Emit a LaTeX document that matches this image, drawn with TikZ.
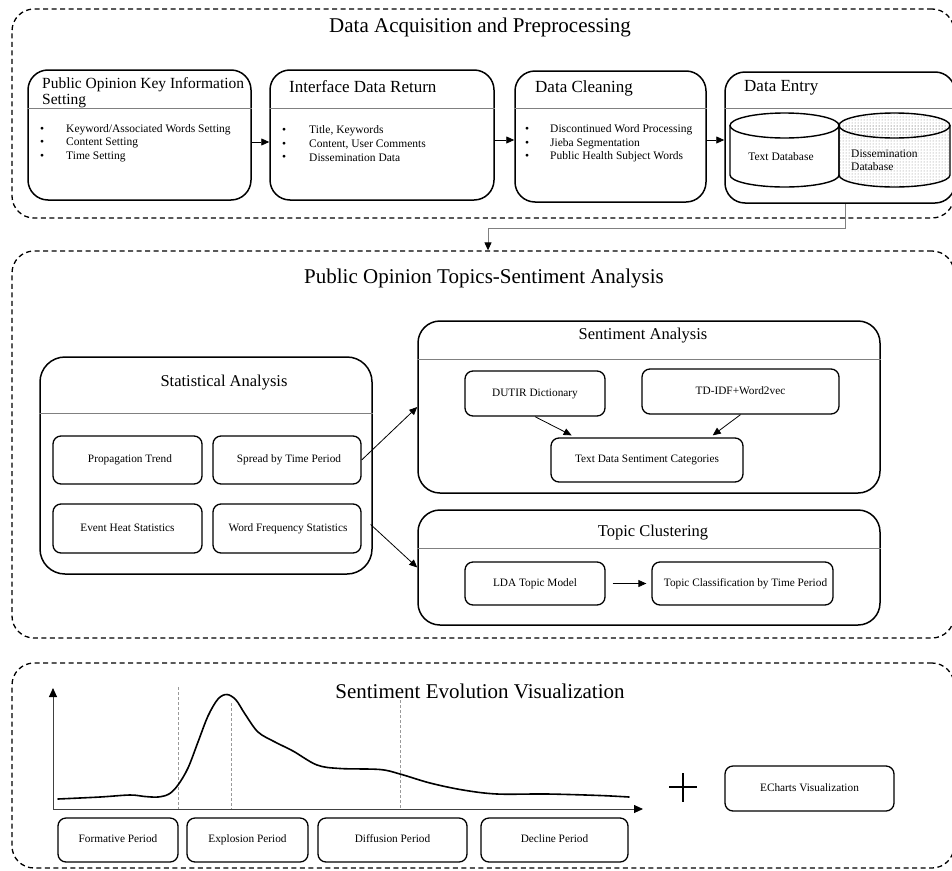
\documentclass[tikz,border=0pt]{standalone}
\usepackage{fontspec}
\setmainfont{Liberation Serif}
\usetikzlibrary{arrows.meta,patterns,calc}
\begin{document}
\begin{tikzpicture}[x=1pt,y=-1pt,
  sec/.style={draw, line width=1.3pt, dash pattern=on 5pt off 3.5pt, rounded corners=22pt, inner sep=0pt},
  panel/.style={draw, line width=1.5pt, rounded corners=20pt, inner sep=0pt},
  inbox/.style={draw, line width=1.3pt, rounded corners=8pt, inner sep=0pt, align=center, text height=8pt, text depth=2.5pt, font=\fontsize{11.3}{13}\selectfont},
  div/.style={draw=gray, line width=0.9pt},
  sectitle/.style={inner sep=0pt, font=\fontsize{21}{25}\selectfont},
  ptitle/.style={inner sep=0pt, anchor=west, font=\fontsize{17}{19}\selectfont},
  btitle/.style={inner sep=0pt, font=\fontsize{16.5}{19}\selectfont},
  bul/.style={inner sep=0pt, anchor=west, font=\fontsize{11.5}{13}\selectfont},
  small/.style={inner sep=0pt, font=\fontsize{11.5}{13}\selectfont},
  arr/.style={line width=0.8pt, -{Triangle[length=8pt,width=7pt]}},
  conn/.style={draw=gray, line width=1pt, -{Triangle[length=8pt,width=7pt,color=black]}},
  axis/.style={draw=black!75, line width=0.9pt, -{Triangle[length=9pt,width=8pt,color=black]}},
  vdash/.style={draw=gray!80, line width=0.6pt, dash pattern=on 3pt off 2pt},
  cyl/.style={draw, line width=1.4pt}
]
\useasboundingbox (0,0) rectangle (952,870);

% ---------- Section 1 ----------
\node[sec, minimum width=942pt, minimum height=209pt] (sec1) at (483,113.5) {};
\node[sectitle] (t1) at (480,27) {Data Acquisition and Preprocessing};

\node[panel, minimum width=223pt, minimum height=130pt] (p1) at (139.5,135) {};
\node[panel, minimum width=224pt, minimum height=130pt] (p2) at (382,135) {};
\node[panel, minimum width=191pt, minimum height=131pt] (p3) at (610.5,136.5) {};
\node[panel, minimum width=230pt, minimum height=131pt] (p4) at (840,137.5) {};

\draw[div] (p1.west |- 0,108) -- (p1.east |- 0,108);
\draw[div] (p2.west |- 0,108) -- (p2.east |- 0,108);
\draw[div] (p3.west |- 0,108) -- (p3.east |- 0,108);
\draw[div] (p4.west |- 0,108) -- (p4.east |- 0,108);

\node[ptitle, font=\fontsize{15.5}{16}\selectfont] (p1ta) at (42,85) {Public Opinion Key Information};
\node[ptitle, font=\fontsize{15.5}{16}\selectfont] (p1tb) at (42,101) {Setting};
\node[ptitle] (p2t) at (289,87) {Interface Data Return};
\node[ptitle] (p3t) at (535,88) {Data Cleaning};
\node[ptitle] (p4t) at (744,88) {Data Entry};

\foreach \y/\t [count=\i] in {129.5/Keyword\slash Associated Words Setting, 143/Content Setting, 156.5/Time Setting}{
  \node[bul] (b1d\i) at (40,\y) {•};
  \node[bul] (b1t\i) at (66,\y) {\t};
}
\foreach \y/\t [count=\i] in {131/{Title, Keywords}, 145/{Content, User Comments}, 158/Dissemination Data}{
  \node[bul] (b2d\i) at (282,\y) {•};
  \node[bul] (b2t\i) at (309,\y) {\t};
}
\foreach \y/\t [count=\i] in {130/Discontinued Word Processing, 143.5/Jieba Segmentation, 157/Public Health Subject Words}{
  \node[bul] (b3d\i) at (525,\y) {•};
  \node[bul] (b3t\i) at (550,\y) {\t};
}

\draw[arr] ([yshift=-7pt]p1.east) -- ([yshift=-7pt]p2.west);
\draw[arr] ([yshift=-5pt]p2.east) -- ([yshift=-3.5pt]p3.west);
\draw[arr] ([yshift=-3.5pt]p3.east) -- ([yshift=-2.5pt]p4.west);

% cylinders
\draw[cyl, fill=white] (730,125.5) -- (730,175) arc[start angle=180, end angle=360, x radius=54.5pt, y radius=12pt] -- (839,125.5);
\draw[cyl, fill=white] (784.5,125.5) ellipse[x radius=54.5pt, y radius=12.5pt];
\draw[cyl, pattern=dots, pattern color=gray] (839,125.5) -- (839,175) arc[start angle=180, end angle=360, x radius=55.5pt, y radius=12pt] -- (950,125.5);
\draw[cyl, pattern=dots, pattern color=gray] (894.5,125.5) ellipse[x radius=55.5pt, y radius=12.5pt];
\node[small] (tdb) at (781,157) {Text Database};
\node[small, anchor=west, align=left] (ddb) at (851,160) {Dissemination\\Database};

% connector to section 2
\node[sec, minimum width=942pt, minimum height=387pt] (sec2) at (483,444.5) {};
\coordinate (bend) at (488,228);
\draw[conn] ([xshift=5pt]p4.south) |- (bend) -- (bend |- sec2.north);

% ---------- Section 2 ----------
\node[sectitle] (t2) at (484,278) {Public Opinion Topics-Sentiment Analysis};

\node[panel, rounded corners=25pt, minimum width=332pt, minimum height=217pt] (stat) at (206,465.5) {};
\draw[div] (stat.west |- 0,413) -- (stat.east |- 0,413);
\node[btitle] (statt) at (224,383) {Statistical Analysis};
\node[inbox, minimum width=149pt, minimum height=48pt] (prop) at (127.5,460) {\hspace*{5pt}Propagation Trend};
\node[inbox, minimum width=148pt, minimum height=48pt] (spread) at (287,460) {\hspace*{4pt}Spread by Time Period};
\node[inbox, minimum width=149pt, minimum height=49pt] (event) at (127.5,528.5) {Event Heat Statistics};
\node[inbox, minimum width=148pt, minimum height=49pt] (wfs) at (287,528.5) {\hspace*{2pt}Word Frequency Statistics};

\node[panel, rounded corners=22pt, minimum width=462pt, minimum height=172pt] (sent) at (649,407) {};
\draw[div] (sent.west |- 0,359) -- (sent.east |- 0,359);
\node[btitle] (sentt) at (643,336) {Sentiment Analysis};
\node[inbox, minimum width=140pt, minimum height=45pt] (dutir) at (535,393.5) {DUTIR Dictionary};
\node[inbox, minimum width=197pt, minimum height=45pt] (tdidf) at (740.5,391.5) {TD-IDF+Word2vec};
\node[inbox, minimum width=192pt, minimum height=44pt] (tdsc) at (647,460) {Text Data Sentiment Categories};
\draw[arr] (dutir.south) -- ($(tdsc.north)!0.78!(tdsc.north west)+(0,-2)$);
\draw[arr] (tdidf.south) -- ($(tdsc.north)!0.68!(tdsc.north east)+(0,-2)$);

\node[panel, rounded corners=22pt, minimum width=462pt, minimum height=115pt] (topic) at (649,567.5) {};
\draw[div] (topic.west |- 0,548) -- (topic.east |- 0,548);
\node[btitle] (topict) at (653,533) {Topic Clustering};
\node[inbox, minimum width=140pt, minimum height=43pt] (lda) at (535,583.5) {LDA Topic Model};
\node[inbox, minimum width=181pt, minimum height=43pt] (tctp) at (742.5,583.5) {\hspace*{6pt}Topic Classification by Time Period};
\draw[arr, shorten <=7pt, shorten >=5pt] (lda.east) -- (tctp.west);

\draw[arr] (spread.east) -- (sent.west);
\draw[arr] ([xshift=9pt,yshift=4pt]wfs.east) -- (topic.west);

% ---------- Section 3 ----------
\node[sec, minimum width=942pt, minimum height=205pt] (sec3) at (483,765.5) {};
\node[sectitle] (t3) at (480,691) {Sentiment Evolution Visualization};

\coordinate (origin) at (53,809);
\coordinate (ytip) at (53,688);
\coordinate (xtip) at (643,809);
\draw[vdash] (178,687) -- (178,809);
\draw[vdash] (231,703) -- (231,809);
\draw[vdash] (400,700) -- (400,809);
\draw[axis] (origin) -- (ytip);
\draw[axis] (origin) -- (xtip);

\draw[line width=1.6pt, line cap=round, line join=round] plot[smooth, tension=0.55] coordinates {
 (58,799) (100,797) (130,795) (145,796.5) (158,797) (169,794) (178,785)
 (188,768) (198,742) (208,716) (218,699) (227,694.5) (236,700) (245,714)
 (258,732) (275,742) (293,751) (317,765) (340,768.5) (380,769.5) (400,774)
 (430,783) (463,790) (497,794) (547,794) (600,795.5) (629,797)};

\node[inbox, minimum width=120pt, minimum height=44pt] (form) at (118,840) {Formative Period};
\node[inbox, minimum width=121pt, minimum height=44pt] (expl) at (247.5,840) {Explosion Period};
\node[inbox, minimum width=149pt, minimum height=44pt] (diff) at (392.5,840) {Diffusion Period};
\node[inbox, minimum width=147pt, minimum height=44pt] (decl) at (554.5,840) {Decline Period};

\coordinate (plusc) at (683,787);
\draw[line width=1.5pt] ([xshift=-14pt]plusc) -- ([xshift=14pt]plusc);
\draw[line width=1.5pt] ([yshift=14pt]plusc) -- ([yshift=-15pt]plusc);

\node[inbox, minimum width=169pt, minimum height=45pt] (echarts) at (809.5,788.5) {ECharts Visualization};
\end{tikzpicture}
\end{document}
